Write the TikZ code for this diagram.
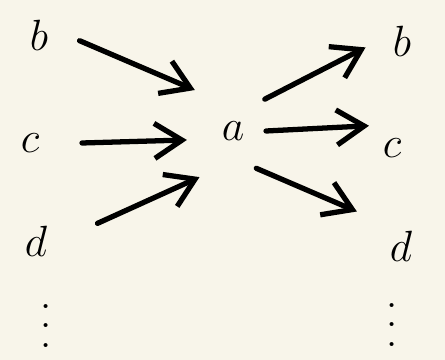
\documentclass[tikz,border=0pt]{standalone}
\usepackage{amsmath,amssymb}
\usepackage{xcolor}
\usetikzlibrary{arrows.meta, positioning, calc}
\definecolor{paper}{RGB}{248,245,234}

\begin{document}
\begin{tikzpicture}[
    letter/.style={inner sep=0pt, font=\fontsize{36}{40}\selectfont},
    hub/.style={inner sep=0pt, font=\fontsize{40}{44}\selectfont},
    dots/.style={inner sep=0pt, scale=2.8, font=\fontsize{7}{8}\selectfont},
    arr/.style={-{Straight Barb[length=5.5mm, width=7mm]}, line width=3pt,
                line cap=round, line join=round},
]
\fill[paper] (0,0) rectangle (8.9,7.2);
\useasboundingbox (0,0) rectangle (8.9,7.2);

% sources
\node[letter] (lb) at (0.78,6.50) {$b$};
\node[letter] (lc) at (0.60,4.34) {$c$};
\node[letter] (ld) at (0.72,2.38) {$d$};
\node[dots] (ldots) at (0.92,0.98) {$\vdots$};

% centre
\node[hub] (a) at (4.66,4.58) {$a$};

% targets
\node[letter] (rb) at (8.04,6.38) {$b$};
\node[letter] (rc) at (7.84,4.24) {$c$};
\node[letter] (rd) at (8.02,2.28) {$d$};
\node[dots] (rdots) at (7.84,1.00) {$\vdots$};

\draw[arr] ($(lb)+(-8:0.82)$)  -- ($(a)+(133:1.12)$);
\draw[arr] ($(lc)+(0:1.04)$)   -- ($(a)+(191:0.94)$);
\draw[arr] ($(ld)+(16:1.28)$)  -- ($(a)+(234:1.14)$);
\draw[arr] ($(a)+(45:0.90)$)   -- ($(rb)+(190:0.74)$);
\draw[arr] ($(a)+(0:0.66)$)    -- ($(rc)+(136:0.64)$);
\draw[arr] ($(a)+(-58:0.88)$)  -- ($(rd)+(142:1.12)$);
\end{tikzpicture}
\end{document}
